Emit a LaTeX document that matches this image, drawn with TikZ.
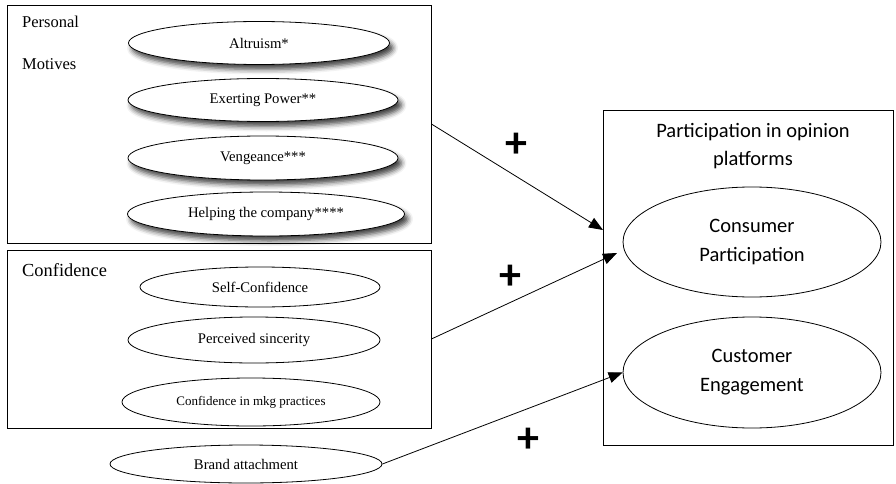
\documentclass[tikz,border=0pt]{standalone}
\usepackage{fontspec}
\setmainfont{Liberation Serif}
\newfontfamily\calfont{Carlito}
\usetikzlibrary{arrows.meta,shadows.blur,shapes.geometric}
\begin{document}
\begin{tikzpicture}[x=1pt,y=-1pt,
  groupbox/.style={draw, line width=0.8pt, inner sep=0pt},
  oval/.style={ellipse, draw, fill=white, line width=0.8pt, inner sep=0pt,
    font=\fontsize{14.7}{16}\selectfont},
  shoval/.style={oval, blur shadow={shadow xshift=3.5pt, shadow yshift=-5pt,
    shadow blur radius=5pt, shadow opacity=75}},
  bigoval/.style={ellipse, draw, line width=0.8pt, inner sep=0pt, align=center,
    font=\calfont\fontsize{20.5}{29}\selectfont,
    minimum width=258, minimum height=110},
  grouplabel/.style={inner sep=0pt, anchor=west},
  plussign/.style={inner sep=0pt, font=\calfont\bfseries\fontsize{44}{44}\selectfont},
  link/.style={line width=0.8pt, -{Triangle[length=14pt, width=11pt]}}
]
\useasboundingbox (0,0) rectangle (896,484);

% group boxes
\node[groupbox, minimum width=424, minimum height=238] (box1) at (219,124) {};
\node[groupbox, minimum width=424, minimum height=178] (box2) at (219,339) {};
\node[groupbox, minimum width=290, minimum height=335] (rbox) at (748,277.5) {};

% group labels
\node[grouplabel, font=\fontsize{16.5}{18}\selectfont] (lper) at (22,22) {Personal};
\node[grouplabel, font=\fontsize{16.5}{18}\selectfont] (lmot) at (22,64) {Motives};
\node[grouplabel, font=\fontsize{18.4}{20}\selectfont] (lconf) at (22,270) {Confidence};

% personal motives
\node[shoval, minimum width=261, minimum height=43] (alt) at (259,43) {Altruism*};
\node[shoval, minimum width=270, minimum height=43] (pow) at (263,100) {Exerting Power**};
\node[shoval, minimum width=270, minimum height=44] (ven) at (263,158) {Vengeance***};
\node[shoval, minimum width=277, minimum height=44] (help) at (266,214) {Helping the company****};

% confidence
\node[oval, minimum width=240, minimum height=40] (self) at (260,287) {Self-Confidence};
\node[oval, minimum width=252, minimum height=46] (sinc) at (254,340) {Perceived sincerity};
\node[oval, minimum width=258, minimum height=48, font=\fontsize{13}{15}\selectfont] (mkg) at (251,402) {Confidence in mkg practices};

% brand attachment
\node[oval, minimum width=272, minimum height=38] (brand) at (246,464) {Brand attachment};

% right side
\node[align=center, inner sep=0pt, font=\calfont\fontsize{20.5}{28}\selectfont] (title) at (753,146) {Participation in opinion\\platforms};
\node[bigoval] (cp) at (752,242) {Consumer\\Participation};
\node[bigoval, minimum height=111] (ce) at (752,372.5) {Customer\\Engagement};

% arrow targets
\coordinate (t1) at (603,230);
\coordinate (t2) at (617,253);

% connectors
\draw[link] (box1.east) -- (t1);
\draw[link] (box2.east) -- (t2);
\draw[link] (brand.east) -- (ce.west);

% signs
\node[plussign] (p1) at (516,145) {+};
\node[plussign] (p2) at (510,277) {+};
\node[plussign] (p3) at (528,440) {+};
\end{tikzpicture}
\end{document}
